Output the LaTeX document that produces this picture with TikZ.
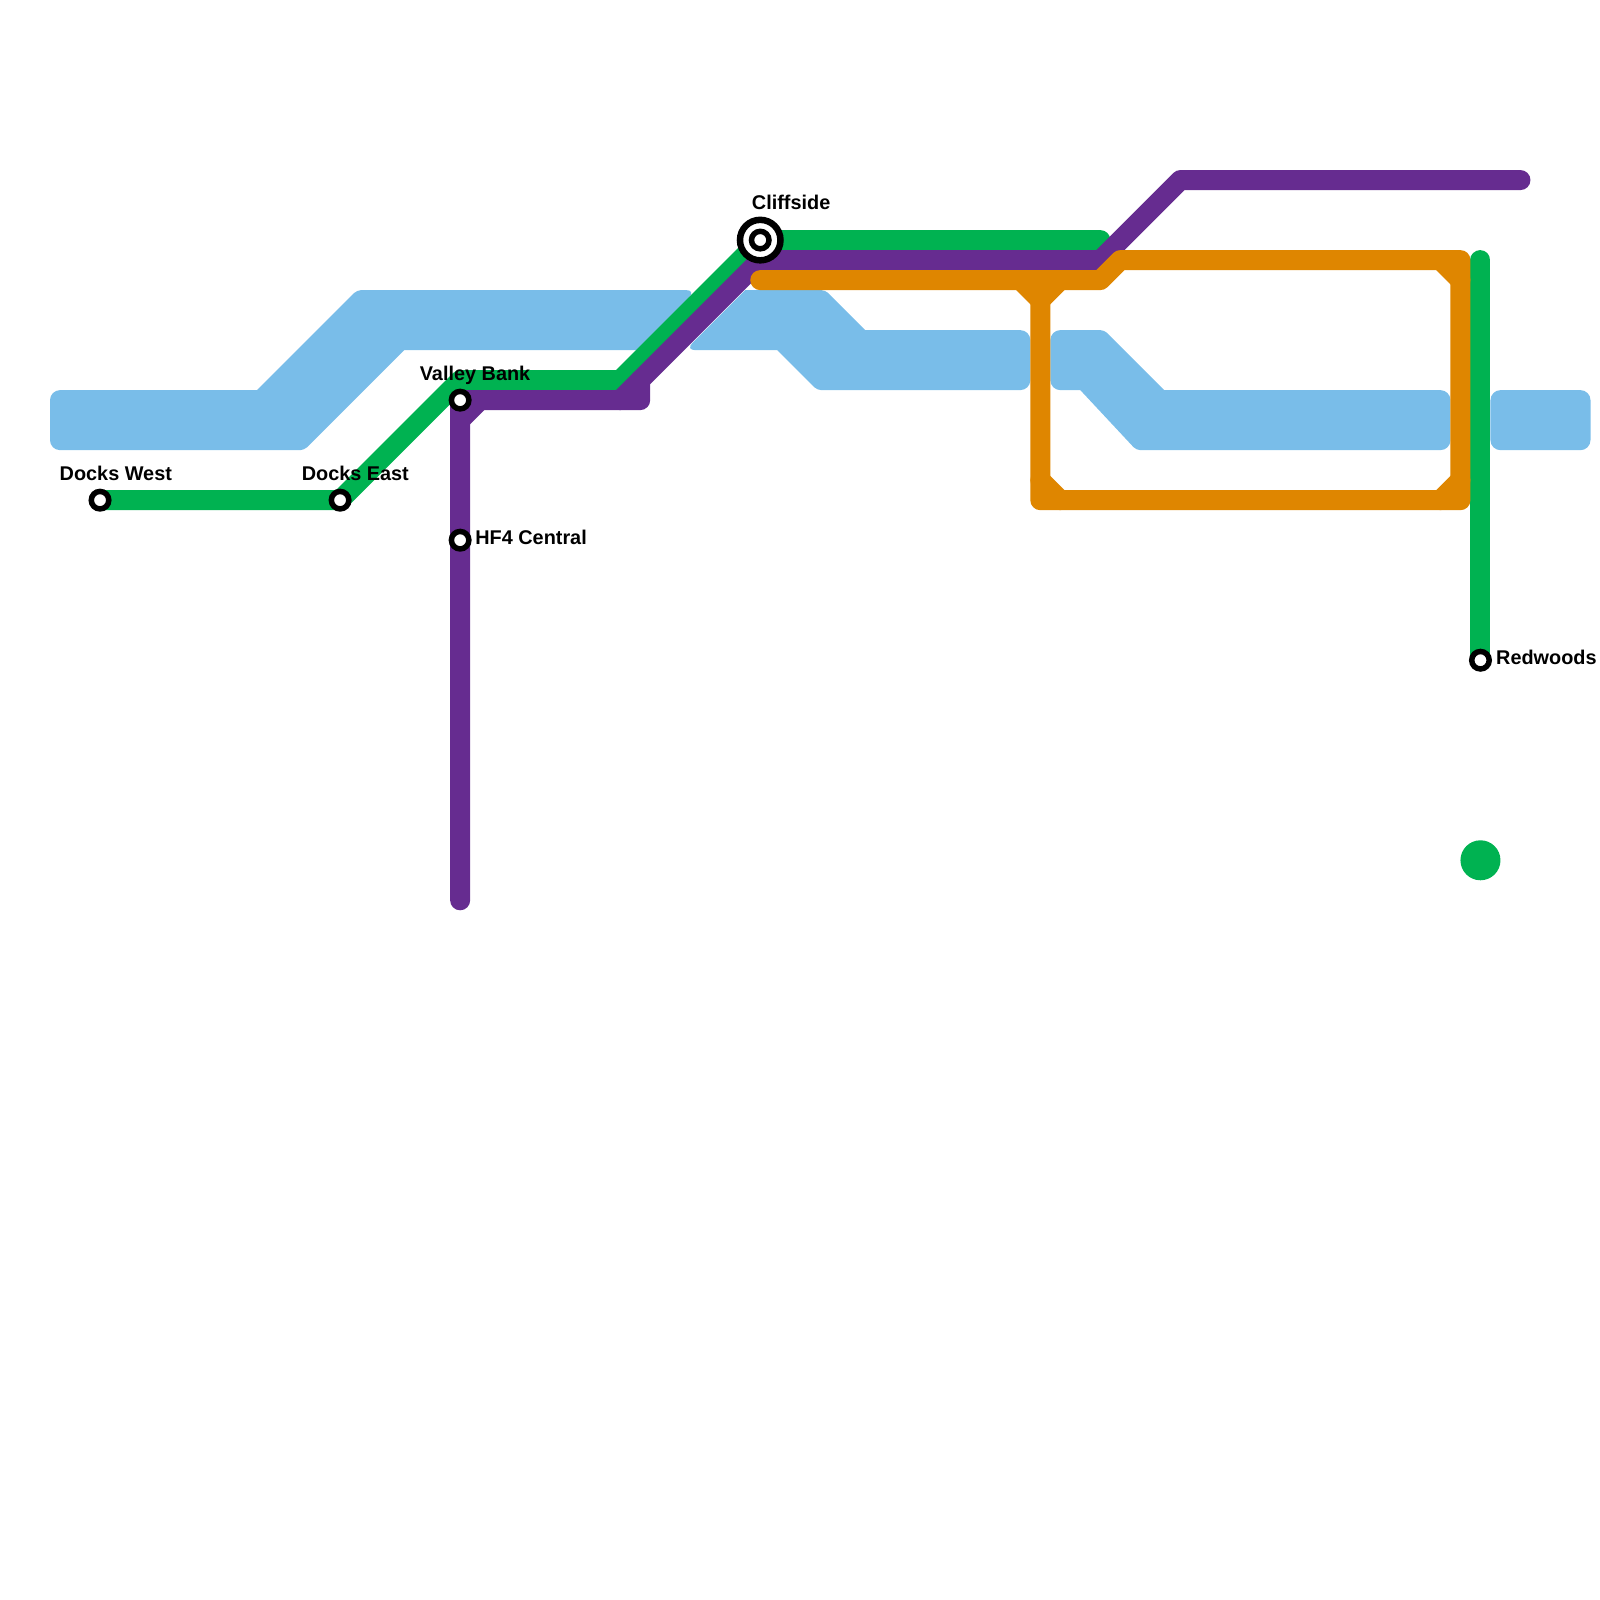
\documentclass[tikz,border=0pt]{standalone}
\usepackage{fontspec}
\setmainfont{Liberation Sans}
\usetikzlibrary{backgrounds}
\definecolor{waterblue}{HTML}{79BDE9}
\definecolor{linegreen}{HTML}{00B251}
\definecolor{linepurple}{HTML}{662C90}
\definecolor{lineorange}{HTML}{DF8600}
\tikzset{
  water/.style={fill=waterblue},
  transit/.style={line width=2mm, line cap=round, line join=round},
  station/.style={circle, draw=black, fill=white, line width=0.55mm, minimum size=1.75mm, inner sep=0},
  bigstation/.style={circle, draw=black, fill=white, line width=0.65mm, minimum size=4.05mm, inner sep=0},
  stationlabel/.style={anchor=base west, inner sep=0, font=\fontsize{5.65pt}{6.8pt}\selectfont\bfseries}
}
\begin{document}
\begin{tikzpicture}[x=0.1mm, y=-0.1mm]
      \useasboundingbox (0,0) rectangle (1599.5,1599.5);

      \node[bigstation] (CL) at (760,240) {};
      \node[station] (CLin) at (760,240) {};
      \begin{scope}[every node/.style={station}]
          \node (DW) at (100,500) {};
          \node (DE) at (340,500) {};
          \node (VB) at (460,400) {};
          \node (HC) at (460,540) {};
          \node (RW) at (1480,660) {};
      \end{scope}

      \begin{scope}[every node/.style={stationlabel}]
          \node (lDW) at (59,480) {Docks West};
          \node (lDE) at (301,480) {Docks East};
          \node (lVB) at (419,380) {Valley Bank};
          \node (lHC) at (474.5,544.5) {HF4 Central};
          \node (lCL) at (751,209.5) {Cliffside};
          \node (lRW) at (1495,664.5) {Redwoods};
      \end{scope}

      \coordinate (g1) at (460,380);
      \coordinate (g2) at (620,380);
      \coordinate (g3) at (1100,240);
      \coordinate (g4) at (1480,260);
      \coordinate (p1) at (460,900);
      \coordinate (p2) at (460,420);
      \coordinate (p3) at (480,400);
      \coordinate (p4) at (640,400);
      \coordinate (p5) at (640,380);
      \coordinate (p6) at (620,400);
      \coordinate (p7) at (760,260);
      \coordinate (p8) at (1100,260);
      \coordinate (p9) at (1180,180);
      \coordinate (p10) at (1520,180);
      \coordinate (o1) at (760,280);
      \coordinate (o2) at (1100,280);
      \coordinate (o3) at (1120,260);
      \coordinate (o4) at (1460,260);
      \coordinate (o5) at (1460,500);
      \coordinate (o6) at (1040,500);
      \coordinate (o7) at (1040,280);
      \coordinate (o8) at (1020,280);
      \coordinate (o9) at (1040,300);
      \coordinate (o10) at (1060,280);
      \coordinate (o11) at (1040,480);
      \coordinate (o12) at (1060,500);
      \coordinate (o13) at (1440,260);
      \coordinate (o14) at (1460,280);
      \coordinate (o15) at (1460,480);
      \coordinate (o16) at (1440,500);

      \begin{pgfonlayer}{background}
        \fill[water] (50,420) [rounded corners=1mm] -- (50,390) [sharp corners] -- (257,390)
          [rounded corners=0.4mm] -- (357,290) [rounded corners=1mm] -- (696,290) [sharp corners] -- (636,350) -- (404,350)
          [rounded corners=0.4mm] -- (304,450) [rounded corners=1mm] -- (50,450) [sharp corners] -- cycle;
        \fill[water] (745,290) [rounded corners=0.4mm] -- (825,290) [sharp corners] -- (865,330)
          [rounded corners=1mm] -- (1030,330) -- (1030,390) [rounded corners=0.4mm] -- (817,390) [sharp corners] -- (777,350)
          [rounded corners=1mm] -- (685,350) [sharp corners] -- cycle;
        \fill[water] (1080,390) [rounded corners=1mm] -- (1050,390) -- (1050,330) [rounded corners=0.4mm] -- (1104,330)
          [sharp corners] -- (1164,390) [rounded corners=1mm] -- (1450,390) -- (1450,450) [rounded corners=0.4mm] -- (1136,450)
          [sharp corners] -- cycle;
        \fill[water, rounded corners=1mm] (1490,390) rectangle (1590,450);

        \draw[transit, linegreen] (DW.center) -- (DE.center) -- (g1) -- (g2) -- (CL.center) -- (g3);
        \draw[transit, linegreen] (g4) -- (RW.center);
        \node[circle, fill=linegreen, minimum size=4mm, inner sep=0] (GD) at (1480,860) {};
        \draw[transit, linepurple] (p1) -- (VB.center) -- (p4) -- (p5) -- (p7) -- (p8) -- (p9) -- (p10);
        \draw[transit, linepurple] (p2) -- (p3);
        \draw[transit, linepurple] (p5) -- (p6);
        \draw[transit, lineorange] (o1) -- (o2) -- (o3) -- (o4) -- (o5) -- (o6) -- (o7);
        \draw[transit, lineorange] (o8) -- (o9) -- (o10);
        \draw[transit, lineorange] (o11) -- (o12);
        \draw[transit, lineorange] (o13) -- (o14);
        \draw[transit, lineorange] (o15) -- (o16);
      \end{pgfonlayer}
\end{tikzpicture}
\end{document}
